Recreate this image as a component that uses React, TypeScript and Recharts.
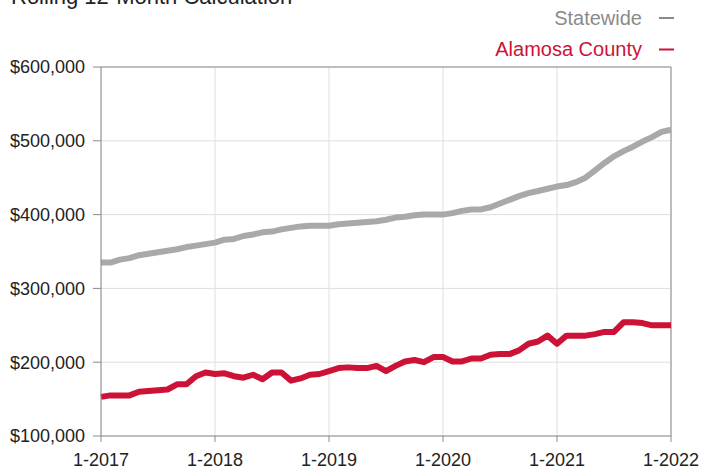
import { LineChart, Line, XAxis, YAxis, CartesianGrid, ReferenceLine } from "recharts";

// months since 1-2017, one point per month
const statewide = [
  335, 335, 339, 341, 345, 347, 349, 351, 353, 356, 358, 360,
  362, 366, 367, 371, 373, 376, 377, 380, 382, 384, 385, 385,
  385, 387, 388, 389, 390, 391, 393, 396, 397, 399, 400, 400,
  400, 402, 405, 407, 407, 410, 415, 420, 425, 429, 432, 435,
  438, 440, 444, 450, 460, 470, 479, 486, 492, 499, 505, 512,
  515,
];

const alamosa = [
  153, 155, 155, 155, 160, 161, 162, 163, 170, 170, 181, 186,
  184, 185, 181, 179, 183, 177, 186, 186, 175, 178, 183, 184,
  188, 192, 193, 192, 192, 195, 188, 195, 201, 203, 200, 207,
  207, 201, 201, 205, 205, 210, 211, 211, 216, 225, 228, 236,
  225, 236, 236, 236, 238, 241, 241, 254, 254, 253, 250, 250,
  250,
];

const yearLabels = ["1-2017", "1-2018", "1-2019", "1-2020", "1-2021", "1-2022"];
const yTicks = [100000, 200000, 300000, 400000, 500000, 600000];

const data = statewide.map((v, i) => ({
  m: i,
  statewide: v * 1000,
  alamosa: alamosa[i] * 1000,
}));

const GRAY = "#a9a9a9";
const RED = "#cc1236";
const AXIS = "#8c8c8c";
const FONT = "'Liberation Sans', Arial, Helvetica, sans-serif";

export default function App() {
  return (
    <div style={{ position: "absolute", left: 0, top: 0, width: 701, height: 468, background: "#fff", overflow: "hidden" }}>
      <LineChart width={701} height={468} data={data} margin={{ top: 67, right: 30, bottom: 0, left: 8 }}>
        <CartesianGrid stroke="#dedede" strokeWidth={1} />
        <XAxis
          dataKey="m"
          type="number"
          domain={[0, 60]}
          ticks={[0, 12, 24, 36, 48, 60]}
          tickFormatter={(v: number) => yearLabels[v / 12]}
          height={32}
          stroke={AXIS}
          tickSize={6}
          tickMargin={11}
          tick={{ fill: "#222", fontSize: 18, fontFamily: FONT }}
          interval={0}
        />
        <YAxis
          domain={[100000, 600000]}
          ticks={yTicks}
          width={93}
          stroke={AXIS}
          tickSize={8}
          tickMargin={8}
          tickFormatter={(v: number) => "$" + v.toLocaleString("en-US")}
          tick={{ fill: "#222", fontSize: 18, fontFamily: FONT }}
          interval={0}
        />
        <ReferenceLine y={600000} stroke={AXIS} strokeWidth={1} />
        <ReferenceLine x={60} stroke={AXIS} strokeWidth={1} />
        <Line
          dataKey="statewide"
          stroke={GRAY}
          strokeWidth={6}
          dot={false}
          type="linear"
          strokeLinejoin="round"
          isAnimationActive={false}
        />
        <Line
          dataKey="alamosa"
          stroke={RED}
          strokeWidth={6}
          dot={false}
          type="linear"
          strokeLinejoin="round"
          isAnimationActive={false}
        />
      </LineChart>
      <svg width={701} height={70} style={{ position: "absolute", left: 0, top: 0, pointerEvents: "none" }}>
        <text x={11} y={4} fontSize={22} fontFamily={FONT} fill="#222">
          Rolling 12-Month Calculation
        </text>
        <text x={642} y={25} textAnchor="end" fontSize={20} fontFamily={FONT} fill="#8a8a8a">
          Statewide
        </text>
        <line x1={659} x2={674} y1={18} y2={18} stroke="#8a8a8a" strokeWidth={2} />
        <text x={642} y={56} textAnchor="end" fontSize={20} fontFamily={FONT} fill={RED}>
          Alamosa County
        </text>
        <line x1={659} x2={674} y1={49.5} y2={49.5} stroke={RED} strokeWidth={2} />
      </svg>
    </div>
  );
}
